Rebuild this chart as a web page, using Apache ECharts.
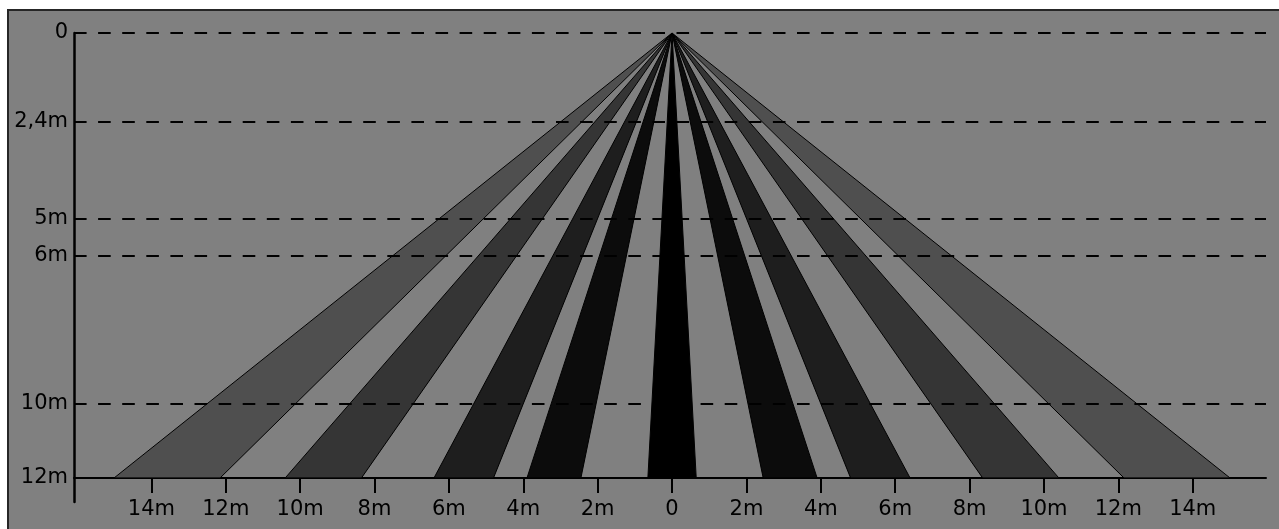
<!DOCTYPE html>
<html>
<head>
<meta charset="utf-8">
<script src="https://cdn.jsdelivr.net/npm/echarts@6/dist/echarts.min.js"></script>
<style>
  html, body { margin: 0; padding: 0; background: #ffffff; width: 1279px; height: 529px; overflow: hidden; }
  #frame { position: absolute; left: 7px; top: 9px; width: 1272px; height: 520px;
           border-left: 2px solid #262626; border-top: 2px solid #262626; background: #808080; box-sizing: border-box; }
  #chart { position: absolute; left: 0; top: 0; width: 1270px; height: 518px; }
</style>
</head>
<body>
<div id="frame"><div id="chart"></div></div>
<script>
// Detection beams: left and right edge (m, lateral) where each beam meets the 12 m line
const beamLeft  = [-15.0, -10.4, -6.4, -3.9, -0.65, 2.45, 4.8, 8.35, 12.15];
const beamRight = [-12.15, -8.35, -4.8, -2.45, 0.65, 3.9, 6.4, 10.4, 15.0];
const beamDepth = 12;            // m, bottom of beams
const apexX = 0, apexY = 0;      // sensor position
const beamColors = ['#4f4f4f', '#353535', '#1e1e1e', '#0c0c0c', '#000000', '#0c0c0c', '#1e1e1e', '#353535', '#4f4f4f'];
const drawOrder = [0, 8, 1, 7, 2, 6, 3, 5, 4];

// Axis ticks
const yTickValues = [0, 2.4, 5, 6, 10, 12];
const yTickLabels = ['0', '2,4m', '5m', '6m', '10m', '12m'];
const dashedLevels = [0, 2.4, 5, 6, 10];
const xTickValues = [-14, -12, -10, -8, -6, -4, -2, 0, 2, 4, 6, 8, 10, 12, 14];
const xTickLabels = ['14m', '12m', '10m', '8m', '6m', '4m', '2m', '0', '2m', '4m', '6m', '8m', '10m', '12m', '14m'];

const beamData = drawOrder.map(i => [beamLeft[i], beamRight[i], beamDepth, i]);

const chart = echarts.init(document.getElementById('chart'), null, { renderer: 'canvas' });
const font = 'DejaVu Sans';
chart.setOption({
  backgroundColor: 'transparent',
  animation: false,
  textStyle: { fontFamily: font },
  grid: { left: 65, top: 22, width: 1192, height: 469 },
  xAxis: {
    type: 'value', min: -16.08, max: 15.97, position: 'bottom', offset: -24,
    axisLine: { show: true, onZero: false, lineStyle: { color: '#000', width: 2 } },
    axisTick: { show: true, customValues: xTickValues, length: 15, lineStyle: { color: '#000', width: 2 } },
    axisLabel: {
      customValues: xTickValues, margin: 21, color: '#000', fontSize: 21, fontFamily: font,
      formatter: v => xTickLabels[xTickValues.indexOf(Math.round(v))] ?? ''
    },
    splitLine: { show: false }
  },
  yAxis: {
    type: 'value', inverse: true, min: 0, max: 12.65,
    axisLine: { show: true, onZero: false, lineStyle: { color: '#000', width: 2.5 } },
    axisTick: { show: false, customValues: yTickValues },
    axisLabel: {
      customValues: yTickValues, margin: 6, color: '#000', fontSize: 21, fontFamily: font,
      formatter: v => {
        const idx = yTickValues.findIndex(t => Math.abs(t - v) < 1e-6);
        return idx >= 0 ? yTickLabels[idx] : '';
      }
    },
    splitLine: { show: false }
  },
  series: [
    {
      type: 'custom',
      clip: false,
      data: beamData,
      renderItem: (params, api) => {
        const xl = api.value(0), xr = api.value(1), d = api.value(2), ci = api.value(3);
        const p0 = api.coord([apexX, apexY]);
        const p1 = api.coord([xl, d]);
        const p2 = api.coord([xr, d]);
        return {
          type: 'polygon',
          shape: { points: [p0, p1, p2] },
          style: { fill: beamColors[ci], stroke: '#000', lineWidth: 1 }
        };
      },
      z: 2
    },
    {
      type: 'line',
      data: [],
      z: 3,
      markLine: {
        silent: true,
        symbol: ['none', 'none'],
        label: { show: false },
        lineStyle: { color: '#000', width: 2, type: [12.6, 11.5], cap: 'butt' },
        data: dashedLevels.map(v => ({ yAxis: v }))
      }
    }
  ]
});
</script>
</body>
</html>
